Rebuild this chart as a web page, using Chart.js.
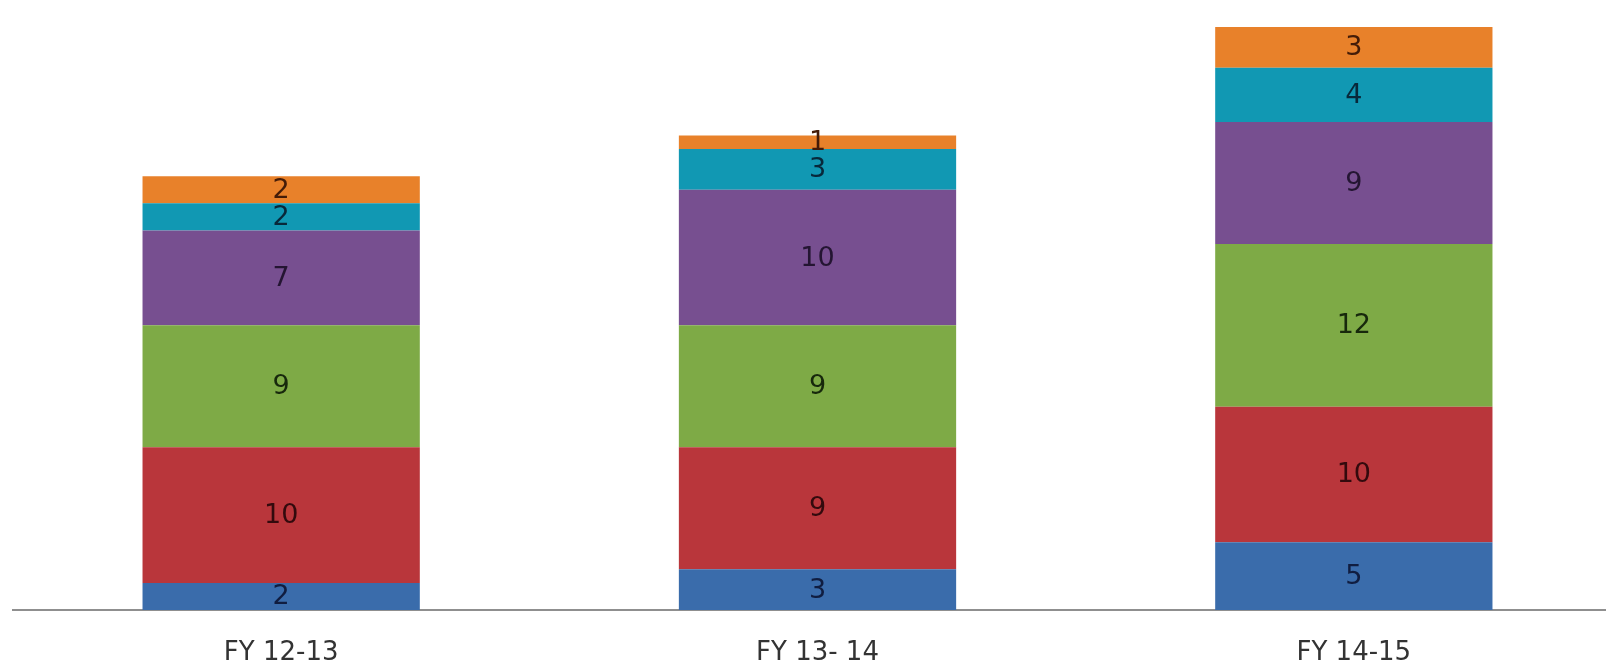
<!DOCTYPE html>
<html>
<head>
<meta charset="utf-8">
<script src="https://cdn.jsdelivr.net/npm/chart.js@4/dist/chart.umd.min.js"></script>
<style>
  html, body { margin: 0; padding: 0; background: #fff; overflow: hidden; }
  #wrap { position: relative; width: 1624px; height: 668px; }
</style>
</head>
<body>
<div id="wrap"><canvas id="fyChart"></canvas></div>
<script>
const YEARS = ['FY 12-13', 'FY 13- 14', 'FY 14-15']
const SERIES_1 = [2, 3, 5]
const SERIES_2 = [10, 9, 10]
const SERIES_3 = [9, 9, 12]
const SERIES_4 = [7, 10, 9]
const SERIES_5 = [2, 3, 4]
const SERIES_6 = [2, 1, 3]

const COLORS = ['#3a6cab', '#b9363b', '#7eaa46', '#774f90', '#1198b3', '#e8812a']
const LABEL_COLORS = ['#101d40', '#330a0d', '#17280c', '#241532', '#08283a', '#441c08']

// writes each segment's value in the middle of its bar piece
const segmentLabels = {
  id: 'segmentLabels',
  afterDatasetsDraw(chart) {
    const ctx = chart.ctx
    ctx.save()
    ctx.font = '27px "DejaVu Sans"'
    ctx.textAlign = 'center'
    ctx.textBaseline = 'middle'
    chart.data.datasets.forEach((ds, i) => {
      chart.getDatasetMeta(i).data.forEach((bar, j) => {
        const mid = (bar.y + bar.base) / 2
        ctx.fillStyle = LABEL_COLORS[i]
        ctx.fillText(String(ds.data[j]), bar.x, mid + 1)
      })
    })
    ctx.restore()
  },
}

const rows = [SERIES_1, SERIES_2, SERIES_3, SERIES_4, SERIES_5, SERIES_6]

new Chart(document.getElementById('fyChart'), {
  type: 'bar',
  data: {
    labels: YEARS,
    datasets: rows.map((data, i) => ({
      label: 'Series ' + (i + 1),
      data,
      backgroundColor: COLORS[i],
      borderWidth: 0,
      categoryPercentage: 1,
      barPercentage: 0.517,
    })),
  },
  options: {
    responsive: true,
    maintainAspectRatio: false,
    animation: false,
    layout: { padding: { left: 13, right: 2, top: 0, bottom: 0 } },
    plugins: {
      legend: { display: false },
      tooltip: { enabled: false },
    },
    scales: {
      x: {
        stacked: true,
        grid: { display: false, drawTicks: false },
        border: { display: true, color: '#8f8f8f', width: 2 },
        ticks: {
          color: '#333333',
          padding: 28,
          font: { family: 'DejaVu Sans', size: 26 },
        },
        afterFit(scale) {
          scale.height = 58
        },
      },
      y: {
        stacked: true,
        display: false,
        min: 0,
        max: 45,
      },
    },
  },
  plugins: [segmentLabels],
})
</script>
</body>
</html>
